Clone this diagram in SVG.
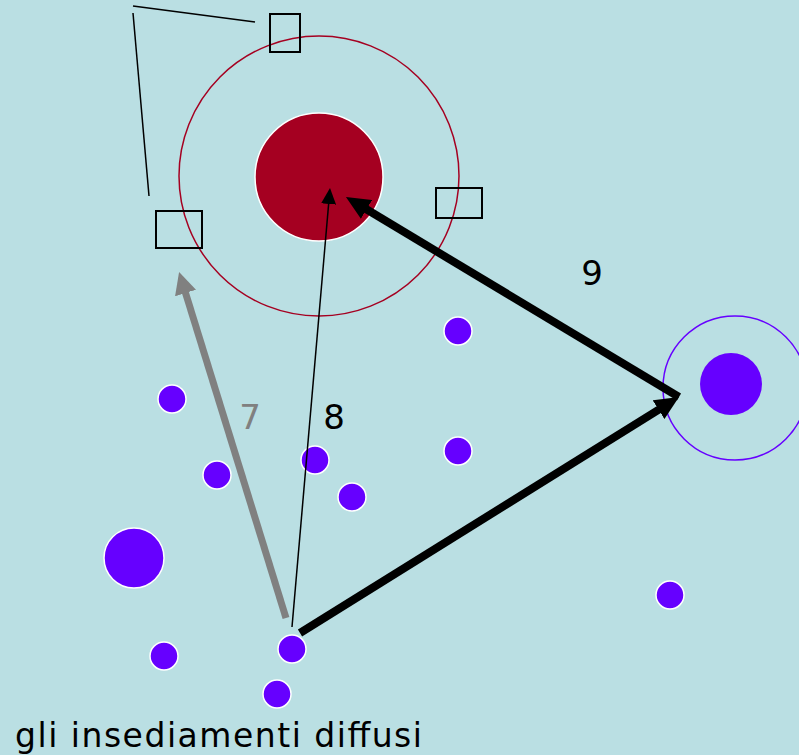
<svg xmlns="http://www.w3.org/2000/svg" width="799" height="755" viewBox="0 0 799 755">
<style>
.dot{fill:#6600FF;stroke:#FFFFFF;stroke-width:1.5}
.box{fill:none;stroke:#000000;stroke-width:2}
.lbl{font-family:"DejaVu Sans",Verdana,sans-serif;font-size:34px;text-anchor:middle}
</style>
<defs>
<marker id="hk" markerUnits="userSpaceOnUse" markerWidth="24" markerHeight="22" refX="4" refY="11" orient="auto" viewBox="0 0 24 22"><path d="M0,0 L24,11 L0,22 z" fill="#000000"/></marker>
<marker id="hg" markerUnits="userSpaceOnUse" markerWidth="22" markerHeight="22" refX="4" refY="11" orient="auto" viewBox="0 0 22 22"><path d="M0,0 L22,11 L0,22 z" fill="#808080"/></marker>
<marker id="ht" markerUnits="userSpaceOnUse" markerWidth="16" markerHeight="15" refX="2" refY="7.5" orient="auto" viewBox="0 0 16 15"><path d="M0,0 L16,7.5 L0,15 z" fill="#000000"/></marker>
</defs>
<rect x="0" y="0" width="799" height="755" fill="#BADFE3"/>
<g id="center">
<circle cx="319" cy="176" r="140" fill="none" stroke="#A50021" stroke-width="1.5"/>
<circle cx="319" cy="177" r="64" fill="#A50021" stroke="#FFFFFF" stroke-width="1.5"/>
</g>
<g id="box-top"><rect class="box" x="270" y="14" width="30" height="38"/></g>
<g id="box-left"><rect class="box" x="156" y="211" width="46" height="37"/></g>
<g id="box-right"><rect class="box" x="436" y="188" width="46" height="30"/></g>
<g id="brace">
<line x1="133" y1="6" x2="255" y2="22" stroke="#000" stroke-width="1.5"/>
<line x1="133" y1="13" x2="149" y2="196" stroke="#000" stroke-width="1.5"/>
</g>
<g id="pole-right">
<circle cx="735" cy="388" r="72" fill="none" stroke="#6600FF" stroke-width="1.5"/>
<circle cx="731" cy="384" r="31" fill="#6600FF"/>
</g>
<g id="dots">
<circle class="dot" cx="458" cy="331" r="14"/>
<circle class="dot" cx="172" cy="399" r="14"/>
<circle class="dot" cx="217" cy="475" r="14"/>
<circle class="dot" cx="315" cy="460" r="14"/>
<circle class="dot" cx="352" cy="497" r="14"/>
<circle class="dot" cx="458" cy="451" r="14"/>
<circle class="dot" cx="134" cy="558" r="30"/>
<circle class="dot" cx="164" cy="656" r="14"/>
<circle class="dot" cx="292" cy="649" r="14"/>
<circle class="dot" cx="277" cy="694" r="14"/>
<circle class="dot" cx="670" cy="595" r="14"/>
</g>
<g id="connectors">
<line x1="286" y1="618" x2="184.4" y2="289.2" stroke="#808080" stroke-width="7" marker-end="url(#hg)"/>
<line x1="292" y1="627" x2="328.8" y2="202" stroke="#000" stroke-width="1.5" marker-end="url(#ht)"/>
<line x1="300" y1="633" x2="662" y2="407.6" stroke="#000" stroke-width="8" marker-end="url(#hk)"/>
<line x1="679" y1="397" x2="363.1" y2="207.3" stroke="#000" stroke-width="8" marker-end="url(#hk)"/>
</g>
<g id="labels">
<text class="lbl" x="250" y="429" fill="#808080">7</text>
<text class="lbl" x="334" y="429" fill="#000">8</text>
<text class="lbl" x="592" y="285" fill="#000">9</text>
<text x="15" y="747" font-family="DejaVu Sans,Verdana,sans-serif" font-size="33" fill="#000" textLength="407" lengthAdjust="spacing">gli insediamenti diffusi</text>
</g>
</svg>
